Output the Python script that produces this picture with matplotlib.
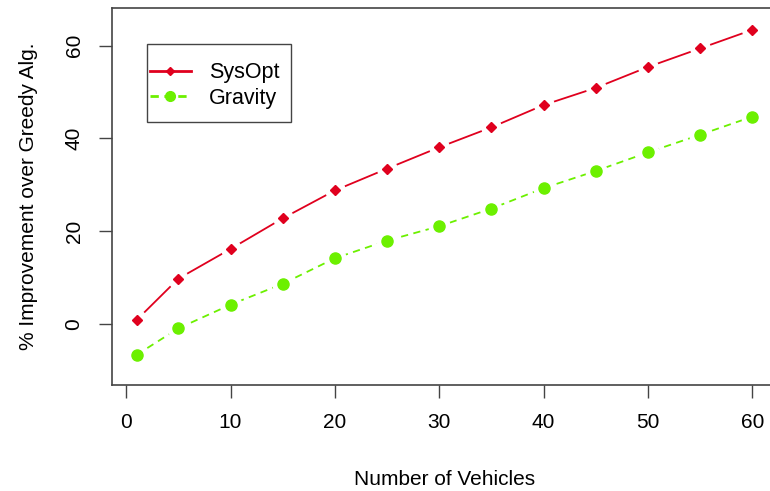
import matplotlib
matplotlib.use('Agg')
import matplotlib.pyplot as plt
from matplotlib.patches import Rectangle

plt.rcParams['font.family'] = ['Liberation Sans', 'DejaVu Sans']

# data
vehicles = [1, 5, 10, 15, 20, 25, 30, 35, 40, 45, 50, 55, 60]
sysopt = [0.9, 9.8, 16.2, 22.8, 28.8, 33.5, 38.1, 42.4, 47.2, 50.9, 55.4, 59.4, 63.4]
gravity = [-6.6, -0.9, 4.2, 8.7, 14.2, 18.0, 21.1, 24.9, 29.3, 33.0, 37.0, 40.8, 44.7]
x_ticks = [0, 10, 20, 30, 40, 50, 60]
y_ticks = [0, 20, 40, 60]

red = '#e0001e'
green = '#6cf000'

fig = plt.figure(figsize=(7.7, 4.91), dpi=100)
# right edge of the plot box runs off the figure, as in the original
ax = fig.add_axes([112 / 770, (491 - 385) / 491, (777 - 112) / 770, (385 - 8) / 491])

# lines first, then white blobs to make R-style gaps, then the points
ax.plot(vehicles, sysopt, color=red, lw=1.3, solid_capstyle='butt')
ax.plot(vehicles, gravity, color=green, lw=1.3, ls=(0, (4, 3)))
ax.plot(vehicles, sysopt, ls='none', marker='o', ms=14, color='white', mec='white')
ax.plot(vehicles, gravity, ls='none', marker='o', ms=15, color='white', mec='white')
ax.plot(vehicles, sysopt, ls='none', marker='D', ms=5, color=red, mec=red)
ax.plot(vehicles, gravity, ls='none', marker='o', ms=8, color=green, mec=green)

# legend box drawn by hand (R legends have roomy top/bottom padding)
ax.add_patch(Rectangle(((147 - 112) / 665, (385 - 122) / 377), 144 / 665, 78 / 377,
                       transform=ax.transAxes, fill=False, ec='#444444', lw=1.0,
                       zorder=5))
h1, = ax.plot([], [], color=red, lw=2, marker='D', ms=4.5, mec=red)
h2, = ax.plot([], [], color=green, lw=2, ls=(0, (3, 2)), marker='o', ms=7, mec=green)
leg = ax.legend([h1, h2], ['SysOpt', 'Gravity'], loc='center left',
                bbox_to_anchor=((150 - 112) / 665, 1 - (85.5 - 8) / 377),
                fontsize=15.5, frameon=False, handlelength=1.9,
                handletextpad=0.85, borderpad=0.0, labelspacing=0.22,
                borderaxespad=0)

ax.set_xlim(-1.36, 62.36)
ax.set_ylim(-13.1, 68.1)
ax.set_xticks(x_ticks)
ax.set_yticks(y_ticks)
ax.tick_params(direction='out', length=9.5, width=1, color='#444444',
               labelsize=15, pad=11)
for lab in ax.get_yticklabels():
    lab.set_rotation(90)
    lab.set_va('center')
for s in ax.spines.values():
    s.set_color('#444444')
    s.set_linewidth(1.2)

ax.set_xlabel('Number of Vehicles', fontsize=15, labelpad=27)
ax.set_ylabel('% Improvement over Greedy Alg.', fontsize=15, labelpad=19)

fig.savefig('out.png', dpi=100)
